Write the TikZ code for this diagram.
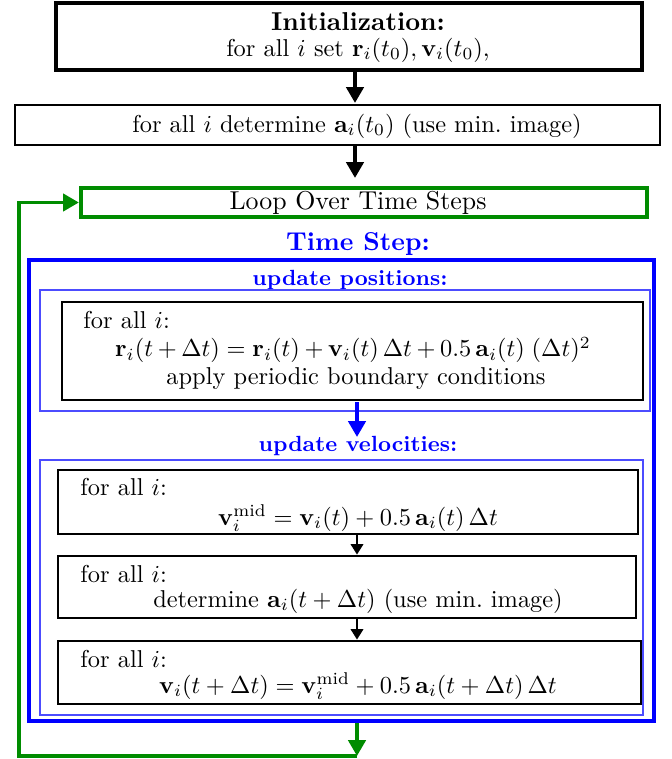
\documentclass[tikz,border=0pt]{standalone}
\usepackage{amsmath}
\usetikzlibrary{fit,arrows.meta}
\definecolor{dkgreen}{rgb}{0,0.55,0}
\definecolor{ltblue}{rgb}{0.3,0.3,1}
\begin{document}
\begin{tikzpicture}[x=0.41pt,y=-0.41pt,
  frame/.style={draw,inner sep=0pt},
  bigframe/.style={frame,line width=1.7pt},
  midframe/.style={frame,line width=1.1pt},
  thinblue/.style={frame,draw=ltblue,line width=0.6pt},
  txt/.style={inner sep=0pt},
  titletxt/.style={inner sep=0pt,font=\fontsize{10.6}{12.8}\selectfont},
  btitle/.style={inner sep=0pt,font=\fontsize{10.6}{12.8}\selectfont\bfseries},
  blabel/.style={inner sep=0pt,text=blue,font=\small\bfseries},
  arr/.style={-{Triangle[length=6.5pt,width=7pt]},line width=1.6pt},
  smallarr/.style={-{Triangle[length=4.3pt,width=5pt]},line width=1.1pt}]
\useasboundingbox (0,0) rectangle (672,759);
% initialization
\node[bigframe,fit={(56,3)(642,70)}] (init) {};
\node[btitle] (initT) at (358,22) {Initialization:};
\node[txt] (initL) at (358,50) {for all $i$ set $\mathbf{r}_i(t_0),\mathbf{v}_i(t_0)$,};
% acceleration
\node[midframe,fit={(15,105)(660,145)}] (acc) {};
\node[txt] (accT) at (357,126) {for all $i$ determine $\mathbf{a}_i(t_0)$ (use min.\ image)};
% loop
\node[bigframe,draw=dkgreen,fit={(81,188)(647,217)}] (loop) {};
\node[titletxt] (loopT) at (358,203) {Loop Over Time Steps};
% time step
\node[btitle,text=blue] (tsT) at (358,244) {Time Step:};
\node[bigframe,draw=blue,fit={(29,260)(654,721)}] (ts) {};
% update positions
\node[blabel] (upT) at (350,280) {update positions:};
\node[thinblue,fit={(40,290)(650,411)}] (upB) {};
\node[midframe,fit={(62,302)(643,400)}] (pos) {};
\node[txt,anchor=west] (posA) at (83,320) {for all $i$:};
\node[txt] (posB) at (353,350) {\hbox to 195pt{$\mathbf{r}_i(t+\Delta t) = \mathbf{r}_i(t) + \mathbf{v}_i(t)\,\Delta t + 0.5\,\mathbf{a}_i(t)\;(\Delta t)^2$}};
\node[txt] (posC) at (356,379) {apply periodic boundary conditions};
% update velocities
\node[blabel] (uvT) at (358,446) {update velocities:};
\node[thinblue,fit={(40,460)(643,715)}] (uvB) {};
\node[midframe,fit={(58,470)(638,534)}] (v1) {};
\node[txt,anchor=west] (v1A) at (80,487) {for all $i$:};
\node[txt] (v1B) at (358,518) {$\mathbf{v}_i^{\text{mid}} = \mathbf{v}_i(t) + 0.5\,\mathbf{a}_i(t)\,\Delta t$};
\node[midframe,fit={(58,556)(636,618)}] (v2) {};
\node[txt,anchor=west] (v2A) at (80,574) {for all $i$:};
\node[txt] (v2B) at (358,601) {determine $\mathbf{a}_i(t+\Delta t)$ (use min.\ image)};
\node[midframe,fit={(58,641)(641,704)}] (v3) {};
\node[txt,anchor=west] (v3A) at (80,659) {for all $i$:};
\node[txt] (v3B) at (358,686) {$\mathbf{v}_i(t+\Delta t) = \mathbf{v}_i^{\text{mid}} + 0.5\,\mathbf{a}_i(t+\Delta t)\,\Delta t$};
% arrows
\coordinate (a1e) at (355,103);
\coordinate (a2e) at (355,178);
\draw[arr] (init.south -| a1e) -- (a1e);
\draw[arr] (acc.south -| a2e) -- (a2e);
\coordinate (bA) at (357,402);
\coordinate (bB) at (357,437);
\draw[arr,blue] (bA) -- (bB);
\draw[smallarr] (v1.south -| bA) -- (v2.north -| bA);
\draw[smallarr] (v2.south -| bA) -- (v3.north -| bA);
\coordinate (gEnd) at (357,756);
\coordinate (gLeft) at (19,756);
\draw[arr,dkgreen] (ts.south -| gEnd) -- (gEnd);
\draw[arr,dkgreen] (gEnd) -- (gLeft) |- (loop.west);
\end{tikzpicture}
\end{document}
